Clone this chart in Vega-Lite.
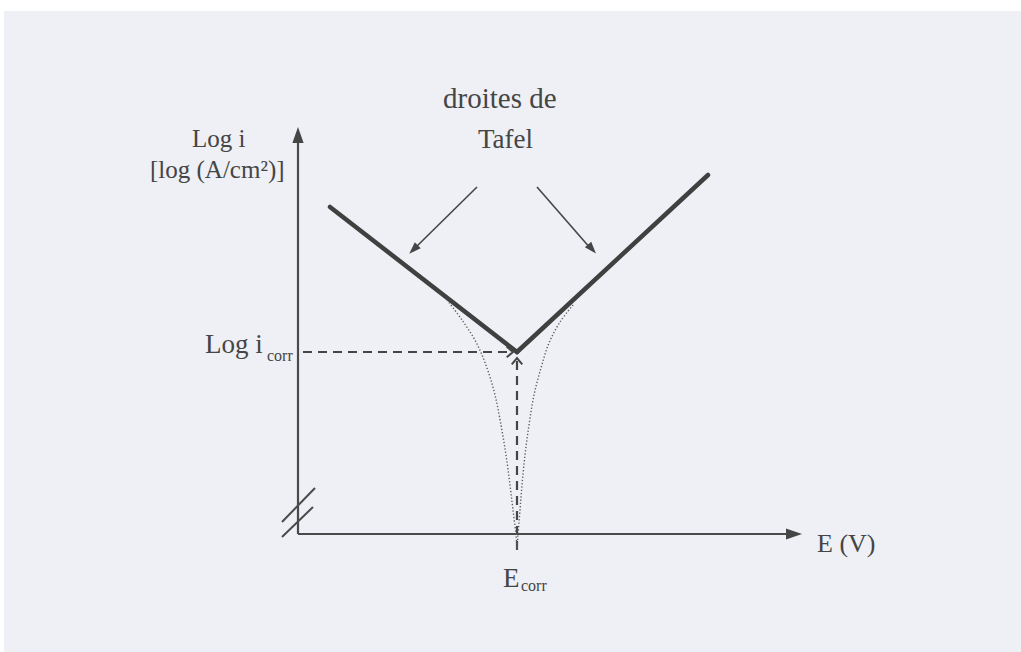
{
  "$schema": "https://vega.github.io/schema/vega-lite/v6.json",
  "width": 1021,
  "height": 652,
  "autosize": {"type": "fit", "contains": "padding"},
  "padding": 0,
  "background": "#eef0f5",
  "config": {"view": {"stroke": null}},
  "datasets": {
    "margins": [
      {"x": 0, "y": 641, "x2": 1021, "y2": 652},
      {"x": 0, "y": 0, "x2": 4, "y2": 652}
    ],
    "axes": [
      {"seg": "E", "k": 0, "x": 298, "y": 118},
      {"seg": "E", "k": 1, "x": 792, "y": 118},
      {"seg": "logi", "k": 0, "x": 298, "y": 118},
      {"seg": "logi", "k": 1, "x": 298, "y": 512}
    ],
    "tafel": [
      {"seg": "cathodique", "k": 0, "x": 330, "y": 445},
      {"seg": "cathodique", "k": 1, "x": 517, "y": 300},
      {"seg": "anodique", "k": 0, "x": 517, "y": 300},
      {"seg": "anodique", "k": 1, "x": 708, "y": 477}
    ],
    "pointers": [
      {"seg": "gauche", "k": 0, "x": 477, "y": 465},
      {"seg": "gauche", "k": 1, "x": 414, "y": 403},
      {"seg": "droite", "k": 0, "x": 537, "y": 465},
      {"seg": "droite", "k": 1, "x": 591, "y": 403}
    ],
    "dashed": [
      {"seg": "icorr", "k": 0, "x": 303, "y": 300},
      {"seg": "icorr", "k": 1, "x": 511, "y": 300},
      {"seg": "Ecorr", "k": 0, "x": 517, "y": 102},
      {"seg": "Ecorr", "k": 1, "x": 517, "y": 292}
    ],
    "dotted": [
      {"seg": "cathodique", "k": 0, "x": 447, "y": 352},
      {"seg": "cathodique", "k": 1, "x": 462, "y": 332},
      {"seg": "cathodique", "k": 2, "x": 476, "y": 310},
      {"seg": "cathodique", "k": 3, "x": 487, "y": 284},
      {"seg": "cathodique", "k": 4, "x": 495, "y": 257},
      {"seg": "cathodique", "k": 5, "x": 501, "y": 227},
      {"seg": "cathodique", "k": 6, "x": 506, "y": 197},
      {"seg": "cathodique", "k": 7, "x": 510, "y": 167},
      {"seg": "cathodique", "k": 8, "x": 513, "y": 142},
      {"seg": "cathodique", "k": 9, "x": 516, "y": 117},
      {"seg": "cathodique", "k": 10, "x": 517, "y": 102},
      {"seg": "anodique", "k": 0, "x": 573, "y": 347},
      {"seg": "anodique", "k": 1, "x": 560, "y": 330},
      {"seg": "anodique", "k": 2, "x": 549, "y": 309},
      {"seg": "anodique", "k": 3, "x": 541, "y": 284},
      {"seg": "anodique", "k": 4, "x": 534, "y": 257},
      {"seg": "anodique", "k": 5, "x": 529, "y": 227},
      {"seg": "anodique", "k": 6, "x": 525, "y": 197},
      {"seg": "anodique", "k": 7, "x": 522, "y": 167},
      {"seg": "anodique", "k": 8, "x": 520, "y": 142},
      {"seg": "anodique", "k": 9, "x": 518, "y": 117},
      {"seg": "anodique", "k": 10, "x": 517, "y": 102}
    ],
    "breaks": [
      {"seg": "b1", "k": 0, "x": 282, "y": 130},
      {"seg": "b1", "k": 1, "x": 315, "y": 164},
      {"seg": "b2", "k": 0, "x": 282, "y": 115},
      {"seg": "b2", "k": 1, "x": 313, "y": 145}
    ],
    "heads": [
      {"x": 298, "y": 517, "a": 0, "s": 256},
      {"x": 794, "y": 118, "a": 90, "s": 256},
      {"x": 413.5, "y": 402.5, "a": 225, "s": 144},
      {"x": 592, "y": 403, "a": 139, "s": 144}
    ],
    "chevrons": [
      {"x": 513, "y": 300, "a": 90},
      {"x": 517, "y": 294, "a": 0}
    ],
    "labels": [
      {"x": 443, "y": 544, "t": "droites de", "s": 29},
      {"x": 478, "y": 504, "t": "Tafel", "s": 27},
      {"x": 192, "y": 505, "t": "Log i", "s": 25},
      {"x": 150, "y": 474, "t": "[log (A/cm²)]", "s": 25},
      {"x": 205, "y": 299, "t": "Log i", "s": 27},
      {"x": 267, "y": 291, "t": "corr", "s": 16},
      {"x": 817, "y": 100, "t": "E (V)", "s": 26},
      {"x": 503, "y": 65, "t": "E", "s": 27},
      {"x": 521, "y": 61, "t": "corr", "s": 16}
    ]
  },
  "encoding": {
    "x": {"field": "x", "type": "quantitative", "scale": {"domain": [0, 1021], "nice": false, "zero": false}, "axis": null},
    "y": {"field": "y", "type": "quantitative", "scale": {"domain": [0, 652], "nice": false, "zero": false}, "axis": null}
  },
  "layer": [
    {
      "data": {"name": "margins"},
      "mark": {"type": "rect", "fill": "#ffffff"},
      "encoding": {"x2": {"field": "x2"}, "y2": {"field": "y2"}}
    },
    {
      "data": {"name": "axes"},
      "mark": {"type": "line", "color": "#4a4a4a", "strokeWidth": 2.2},
      "encoding": {"detail": {"field": "seg"}, "order": {"field": "k"}}
    },
    {
      "data": {"name": "tafel"},
      "mark": {"type": "line", "color": "#404040", "strokeWidth": 4.5, "strokeCap": "round"},
      "encoding": {"detail": {"field": "seg"}, "order": {"field": "k"}}
    },
    {
      "data": {"name": "pointers"},
      "mark": {"type": "line", "color": "#454545", "strokeWidth": 1.6},
      "encoding": {"detail": {"field": "seg"}, "order": {"field": "k"}}
    },
    {
      "data": {"name": "dashed"},
      "mark": {"type": "line", "color": "#454545", "strokeWidth": 2.2, "strokeDash": [9, 6]},
      "encoding": {"detail": {"field": "seg"}, "order": {"field": "k"}}
    },
    {
      "data": {"name": "dotted"},
      "mark": {"type": "line", "color": "#5c5c5c", "strokeWidth": 1.4, "strokeDash": [1.3, 2], "interpolate": "catmull-rom"},
      "encoding": {"detail": {"field": "seg"}, "order": {"field": "k"}}
    },
    {
      "data": {"name": "breaks"},
      "mark": {"type": "line", "color": "#4a4a4a", "strokeWidth": 2},
      "encoding": {"detail": {"field": "seg"}, "order": {"field": "k"}}
    },
    {
      "data": {"name": "heads"},
      "mark": {"type": "point", "shape": "M0,-1L0.7,1L-0.7,1Z", "filled": true, "color": "#454545", "opacity": 1},
      "encoding": {
        "angle": {"field": "a", "type": "quantitative", "scale": null},
        "size": {"field": "s", "type": "quantitative", "scale": null}
      }
    },
    {
      "data": {"name": "chevrons"},
      "mark": {"type": "point", "shape": "M-0.75,0.9L0,0L0.75,0.9", "filled": false, "color": "#454545", "strokeWidth": 2, "size": 196, "opacity": 1},
      "encoding": {
        "angle": {"field": "a", "type": "quantitative", "scale": null}
      }
    },
    {
      "data": {"name": "labels"},
      "mark": {"type": "text", "align": "left", "baseline": "alphabetic", "font": "Liberation Serif", "color": "#454545"},
      "encoding": {
        "text": {"field": "t"},
        "size": {"field": "s", "type": "quantitative", "scale": null}
      }
    }
  ]
}
